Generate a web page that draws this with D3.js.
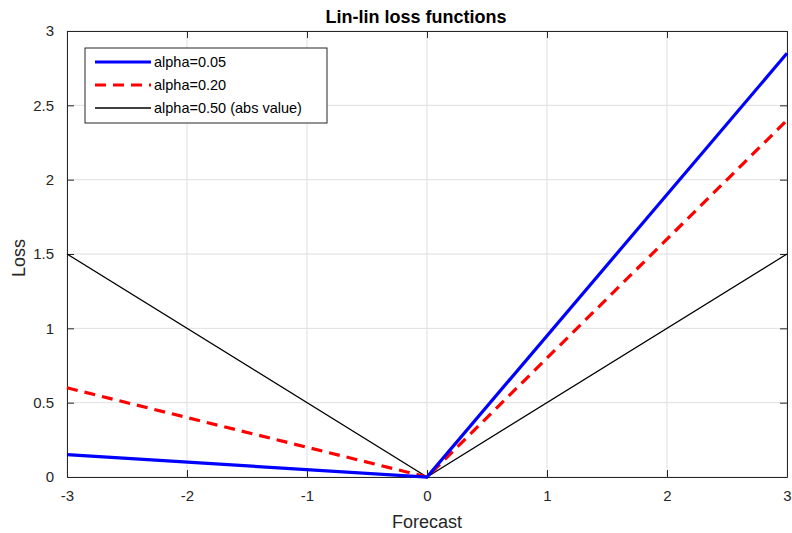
<!DOCTYPE html>
<html>
<head>
<meta charset="utf-8">
<script src="https://cdn.jsdelivr.net/npm/d3@7"></script>
<style>
  body { margin: 0; background: #fff; }
  svg { font-family: "Liberation Sans", Arial, sans-serif; }
</style>
</head>
<body>
<div id="chart"></div>
<script>
// forecast error values where the loss function has its corners
const forecast = [-3, 0, 3];
const loss005 = [0.15, 0, 2.85];
const loss020 = [0.6, 0, 2.4];
const loss050 = [1.5, 0, 1.5];
const seriesNames = ["alpha=0.05", "alpha=0.20", "alpha=0.50 (abs value)"];
const xTicks = [-3, -2, -1, 0, 1, 2, 3];
const yTicks = [0, 0.5, 1, 1.5, 2, 2.5, 3];

const W = 792, H = 533;
const margin = { top: 31, right: 5, bottom: 56, left: 67 };
const width = W - margin.left - margin.right;
const height = H - margin.top - margin.bottom;
const axisColor = "#262626";

const svg = d3.select("#chart").append("svg")
  .attr("width", W).attr("height", H);

const g = svg.append("g")
  .attr("transform", `translate(${margin.left},${margin.top})`);

const x = d3.scaleLinear().domain([-3, 3]).range([0, width]);
const y = d3.scaleLinear().domain([0, 3]).range([height, 0]);

// grid
g.append("g").selectAll("line").data(xTicks).enter().append("line")
  .attr("x1", d => x(d)).attr("x2", d => x(d))
  .attr("y1", 0).attr("y2", height)
  .style("stroke", "#dfdfdf").style("stroke-width", 1);
g.append("g").selectAll("line").data(yTicks).enter().append("line")
  .attr("y1", d => y(d)).attr("y2", d => y(d))
  .attr("x1", 0).attr("x2", width)
  .style("stroke", "#dfdfdf").style("stroke-width", 1);

// axes (inward ticks, box on all sides)
function styleAxis(sel) {
  sel.selectAll("path").style("stroke", axisColor);
  sel.selectAll("line").style("stroke", axisColor);
  sel.selectAll("text").style("fill", axisColor).style("font-size", "15px");
}

const xAxis = g.append("g").attr("transform", `translate(0,${height})`)
  .call(d3.axisBottom(x).tickValues(xTicks).tickSizeInner(-7).tickSizeOuter(0).tickPadding(13).tickFormat(d => String(d)));
styleAxis(xAxis);
const yAxis = g.append("g")
  .call(d3.axisLeft(y).tickValues(yTicks).tickSizeInner(-7).tickSizeOuter(0).tickPadding(13).tickFormat(d => String(d)));
styleAxis(yAxis);
const xTop = g.append("g")
  .call(d3.axisTop(x).tickValues(xTicks).tickSizeInner(-7).tickSizeOuter(0).tickFormat(""));
styleAxis(xTop);
const yRight = g.append("g").attr("transform", `translate(${width},0)`)
  .call(d3.axisRight(y).tickValues(yTicks).tickSizeInner(-7).tickSizeOuter(0).tickFormat(""));
styleAxis(yRight);

// lines
const series = [
  { name: seriesNames[0], values: loss005, color: "#0000ff", width: 3.2, dash: null },
  { name: seriesNames[1], values: loss020, color: "#ff0000", width: 3.2, dash: "11,7" },
  { name: seriesNames[2], values: loss050, color: "#000000", width: 1.3, dash: null }
];

const line = d3.line().x(d => x(d[0])).y(d => y(d[1]));

series.slice().reverse().forEach(s => {
  g.append("path")
    .datum(forecast.map((f, i) => [f, s.values[i]]))
    .attr("d", line)
    .style("fill", "none")
    .style("stroke", s.color)
    .style("stroke-width", s.width)
    .style("stroke-dasharray", s.dash);
});

// legend
const legend = g.append("g").attr("transform", "translate(18,17)");
legend.append("rect")
  .attr("width", 242).attr("height", 75)
  .style("fill", "#fff").style("stroke", axisColor).style("stroke-width", 1);
series.forEach((s, i) => {
  const ly = 14 + i * 23;
  legend.append("line")
    .attr("x1", 10).attr("x2", 66).attr("y1", ly).attr("y2", ly)
    .style("stroke", s.color).style("stroke-width", s.width)
    .style("stroke-dasharray", s.dash);
  legend.append("text")
    .attr("x", 69).attr("y", ly + 5)
    .style("font-size", "14.5px").style("fill", "#000")
    .text(s.name);
});

// title and labels
svg.append("text")
  .attr("x", margin.left + width / 2 - 11).attr("y", 23)
  .style("text-anchor", "middle").style("font-weight", "bold")
  .style("font-size", "18px").style("fill", "#000")
  .text("Lin-lin loss functions");

svg.append("text")
  .attr("x", margin.left + width / 2).attr("y", H - 5)
  .style("text-anchor", "middle").style("font-size", "18px").style("fill", axisColor)
  .text("Forecast");

svg.append("text")
  .attr("transform", "rotate(-90)")
  .attr("x", -258).attr("y", 25)
  .style("text-anchor", "middle").style("font-size", "18px").style("fill", axisColor)
  .text("Loss");
</script>
</body>
</html>
